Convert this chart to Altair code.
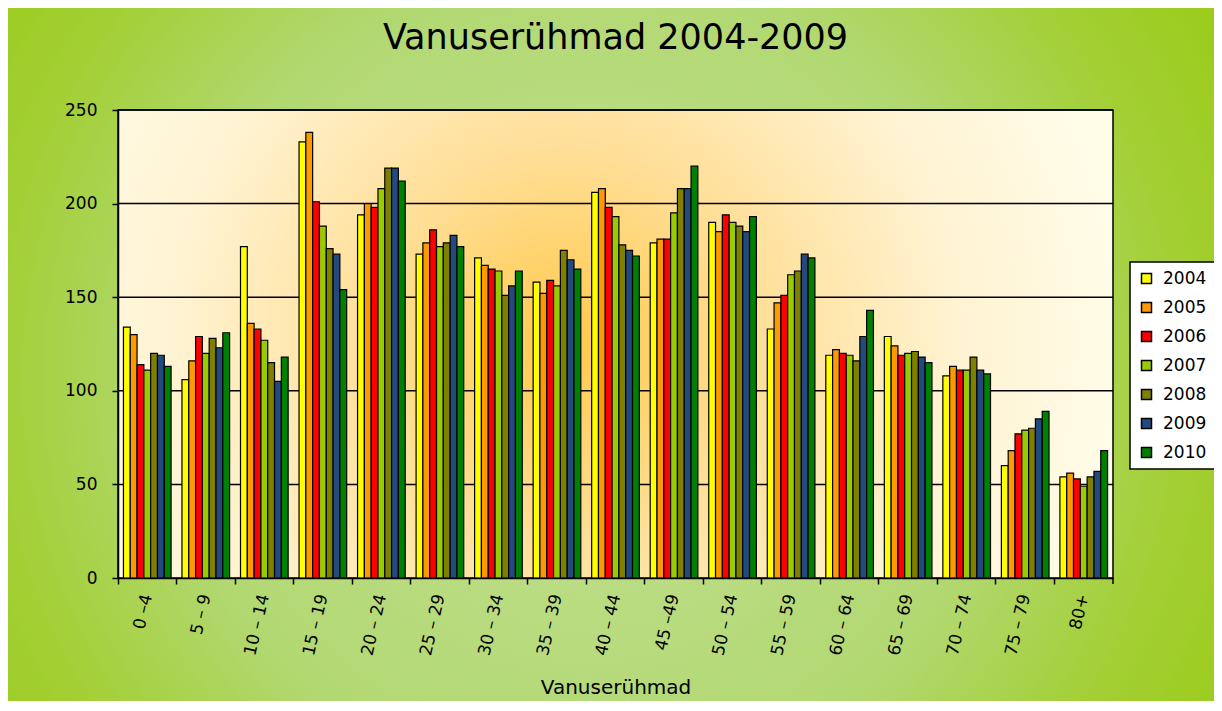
import altair as alt
import pandas as pd

groups = ["0 –4", "5 – 9", "10 – 14", "15 – 19", "20 – 24", "25 – 29", "30 – 34",
          "35 – 39", "40 – 44", "45 –49", "50 – 54", "55 – 59", "60 – 64",
          "65 – 69", "70 – 74", "75 – 79", "80+"]
years = ["2004", "2005", "2006", "2007", "2008", "2009", "2010"]

v2004 = [134, 106, 177, 233, 194, 173, 171, 158, 206, 179, 190, 133, 119, 129, 108, 60, 54]
v2005 = [130, 116, 136, 238, 200, 179, 167, 152, 208, 181, 185, 147, 122, 124, 113, 68, 56]
v2006 = [114, 129, 133, 201, 198, 186, 165, 159, 198, 181, 194, 151, 120, 119, 111, 77, 53]
v2007 = [111, 120, 127, 188, 208, 177, 164, 156, 193, 195, 190, 162, 119, 120, 111, 79, 49]
v2008 = [120, 128, 115, 176, 219, 179, 151, 175, 178, 208, 188, 164, 116, 121, 118, 80, 54]
v2009 = [119, 123, 105, 173, 219, 183, 156, 170, 175, 208, 185, 173, 129, 118, 111, 85, 57]
v2010 = [113, 131, 118, 154, 212, 177, 164, 165, 172, 220, 193, 171, 143, 115, 109, 89, 68]
series = [v2004, v2005, v2006, v2007, v2008, v2009, v2010]

colors = ["#ffff00", "#ff9900", "#ff0000", "#99cc00", "#808000", "#234a7f", "#008000"]
y_ticks = [0, 50, 100, 150, 200, 250]
grid_values = [50, 100, 150, 200, 250]

rows = []
for yr, vals in zip(years, series):
    for g, v in zip(groups, vals):
        rows.append({"group": g, "year": yr, "value": v})
df = pd.DataFrame(rows)

W, H = 995, 468
PL, PT, PR, PB = 110, 102, 101, 123
FONT = "DejaVu Sans"

one = pd.DataFrame({"k": [0]})

outer_grad = alt.Gradient(
    gradient="radial", x1=0.48, y1=0.52, r1=0, x2=0.48, y2=0.52, r2=0.62,
    stops=[alt.GradientStop(color="#c2e194", offset=0),
           alt.GradientStop(color="#b2d872", offset=0.55),
           alt.GradientStop(color="#a3cf34", offset=0.8),
           alt.GradientStop(color="#9acb18", offset=1)])
outer = alt.Chart(one).mark_rect(clip=False, fill=outer_grad).encode(
    x=alt.value(-PL), x2=alt.value(W + PR), y=alt.value(-PT), y2=alt.value(H + PB))

plot_grad = alt.Gradient(
    gradient="radial", x1=0.45, y1=0.5, r1=0, x2=0.45, y2=0.5, r2=0.56,
    stops=[alt.GradientStop(color="#ffc94a", offset=0),
           alt.GradientStop(color="#ffdf98", offset=0.35),
           alt.GradientStop(color="#fff3d2", offset=0.7),
           alt.GradientStop(color="#fffce8", offset=1)])
plotbg = alt.Chart(one).mark_rect(fill=plot_grad, stroke="black", strokeWidth=1.5).encode(
    x=alt.value(0), x2=alt.value(W), y=alt.value(0), y2=alt.value(H))

y_scale = alt.Scale(domain=[0, 250])
y_axis = alt.Axis(values=y_ticks, title=None, labelFontSize=17,
                  labelPadding=15, tickSize=6, zindex=1)

grid = alt.Chart(pd.DataFrame({"value": grid_values})).mark_rule(color="black", strokeWidth=1.5).encode(
    y=alt.Y("value:Q", scale=y_scale, axis=y_axis),
    x=alt.value(0), x2=alt.value(W))

bars = alt.Chart(df).mark_bar(stroke="black", strokeWidth=1.2).encode(
    x=alt.X("group:N", sort=groups,
            scale=alt.Scale(paddingInner=0, paddingOuter=0),
            axis=alt.Axis(title="Vanuserühmad", labelAngle=-77, bandPosition=0,
                          labelFontSize=17, labelPadding=10, tickSize=6,
                          titleFontSize=20, titleFontWeight="normal",
                          titleY=99, titleBaseline="top", zindex=1)),
    xOffset=alt.XOffset("year:N", sort=years,
                        scale=alt.Scale(paddingInner=0, paddingOuter=0.8)),
    y=alt.Y("value:Q", scale=y_scale, axis=y_axis),
    color=alt.Color("year:N", sort=years,
                    scale=alt.Scale(domain=years, range=colors),
                    legend=alt.Legend(title=None, orient="none", legendX=1012, legendY=152,
                                      symbolType="square", symbolSize=100,
                                      symbolStrokeColor="black", symbolStrokeWidth=1.5,
                                      labelFontSize=17, rowPadding=11, padding=8,
                                      labelOffset=8, fillColor="white",
                                      strokeColor="black", zindex=1)),
)

edge_tick = alt.Chart(one).mark_rule(color="black", strokeWidth=1.5).encode(
    x=alt.value(W), y=alt.value(H), y2=alt.value(H + 6))

chart = alt.layer(outer, plotbg, grid, bars, edge_tick).properties(
    width=W, height=H,
    padding={"left": PL, "top": PT, "right": PR, "bottom": PB},
    autosize=alt.AutoSizeParams(type="none"),
    background="white",
    title=alt.TitleParams("Vanuserühmad 2004-2009", fontSize=35, fontWeight="normal",
                          frame="group", anchor="middle", baseline="alphabetic",
                          offset=0, dy=76, zindex=1, font=FONT, color="black"),
).configure(font=FONT).configure_view(stroke=None).configure_axis(
    domainColor="black", domainWidth=1.5, tickColor="black", tickWidth=1.5,
    labelColor="black", titleColor="black", grid=False, labelFont=FONT, titleFont=FONT
).configure_legend(labelFont=FONT, labelColor="black", strokeWidth=1.5)

chart.save("out.html", embed_options={"renderer": "svg", "actions": False})
